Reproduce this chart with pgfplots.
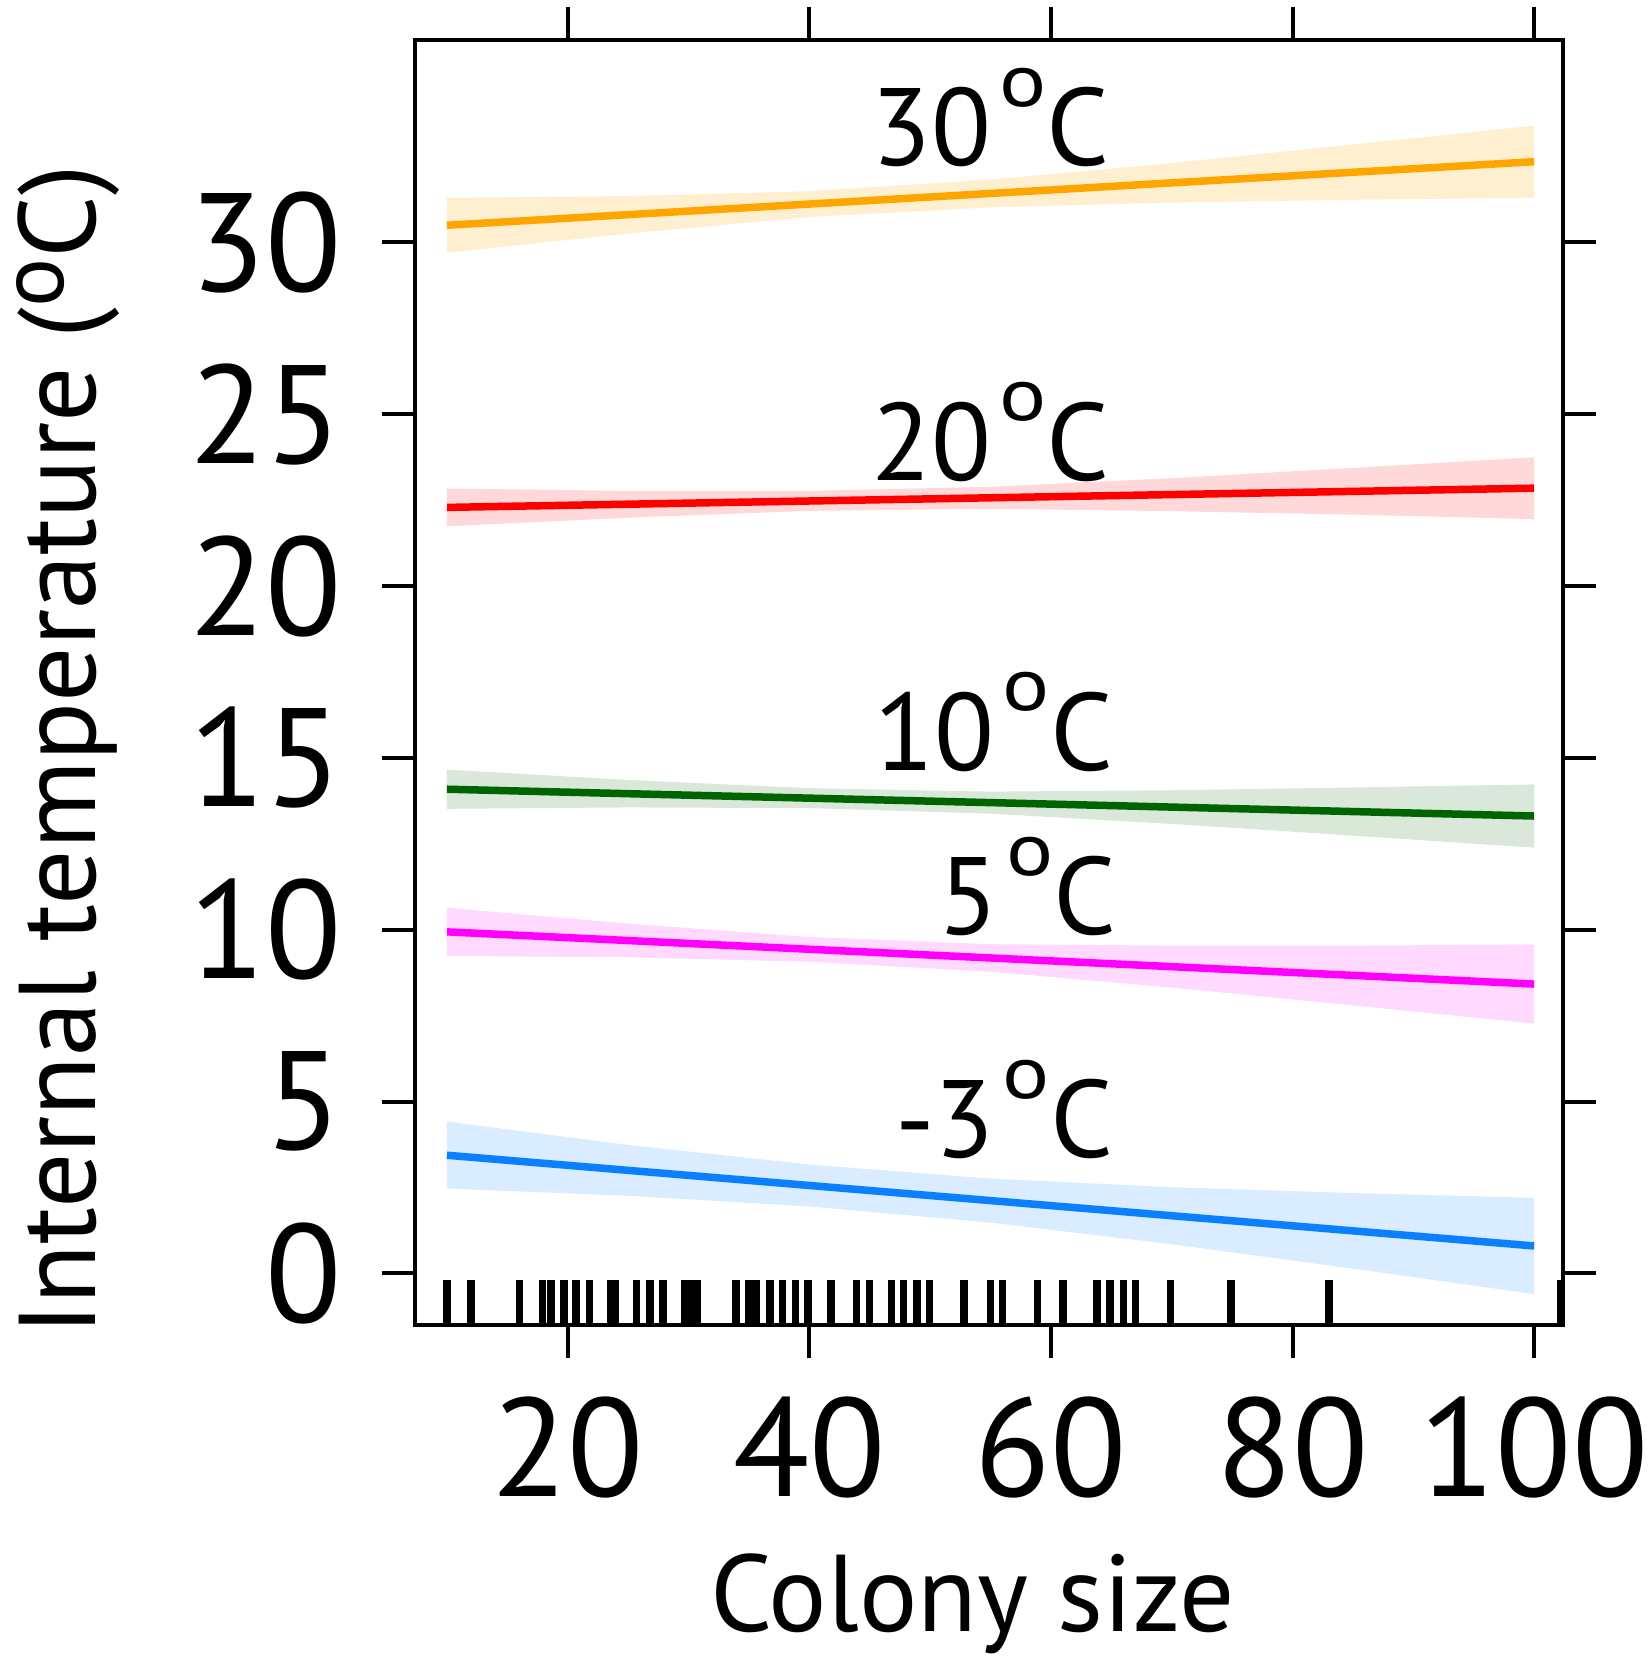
\documentclass[border=0pt]{standalone}
\usepackage{pgfplots}
\pgfplotsset{compat=1.18}
\usepackage{fontspec}
\setmainfont{PT Sans}
\usepackage{graphicx}

\definecolor{cOr}{HTML}{FFA500}
\definecolor{cRd}{HTML}{FF0000}
\definecolor{cGr}{HTML}{006400}
\definecolor{cMg}{HTML}{FF00FF}
\definecolor{cBl}{HTML}{0A80FF}

\newcommand\dg{\kern2pt\raisebox{0.54em}{\scalebox{0.8}[0.68]{o}}}

\begin{document}
\begin{tikzpicture}
\useasboundingbox (-99.6pt,-81.84pt) rectangle (296.4pt,318pt);
\begin{axis}[
  scale only axis, width=275.52pt, height=308.4pt,
  at={(0,0)}, anchor=south west,
  xmin=7.36, xmax=102.39, ymin=-1.50, ymax=35.89,
  axis line style={line width=0.96pt},
  every tick/.style={black, line width=0.96pt},
  tick align=outside, major tick length=8pt,
  xtick={20,40,60,80,100}, ytick={0,5,10,15,20,25,30},
  minor tick num=0,
  /pgf/number format/assume math mode=true,
  tick label style={font=\fontsize{33.6}{36}\selectfont, inner sep=0pt},
  xticklabel style={yshift=-9pt},
  yticklabel style={xshift=-9.3pt},
  xlabel={Colony size},
  ylabel={Internal temperature (\raisebox{0.3em}{\scalebox{0.84}{o}}C)},
  label style={font=\fontsize{26.2}{30}\selectfont, inner sep=0pt},
  xlabel style={at={(axis description cs:0.486,-0.2387)}, anchor=base},
  ylabel style={at={(axis description cs:-0.2780,0.447)}, anchor=base},
]
% confidence bands
\addplot[draw=none, fill=cOr!18] coordinates {(10,31.3)(25,31.35)(40,31.49)(55,31.83)(70,32.31)(85,32.85)(100,33.4)(100,31.3)(85,31.24)(70,31.16)(55,31.02)(40,30.74)(25,30.26)(10,29.7)} -- cycle;
\addplot[draw=none, fill=cRd!15] coordinates {(10,22.84)(25,22.77)(40,22.77)(55,22.89)(70,23.14)(85,23.44)(100,23.75)(100,21.95)(85,22.08)(70,22.18)(55,22.25)(40,22.19)(25,21.99)(10,21.74)} -- cycle;
\addplot[draw=none, fill=cGr!15] coordinates {(10,14.66)(25,14.36)(40,14.12)(55,14.02)(70,14.06)(85,14.14)(100,14.23)(100,12.39)(85,12.74)(70,13.08)(55,13.38)(40,13.54)(25,13.56)(10,13.52)} -- cycle;
\addplot[draw=none, fill=cMg!15] coordinates {(10,10.64)(25,10.18)(40,9.79)(55,9.58)(70,9.54)(85,9.54)(100,9.57)(100,7.27)(85,7.80)(70,8.32)(55,8.78)(40,9.07)(25,9.20)(10,9.24)} -- cycle;
\addplot[draw=none, fill=cBl!15] coordinates {(10,4.42)(25,3.74)(40,3.17)(55,2.76)(70,2.51)(85,2.34)(100,2.2)(100,-0.6)(85,0.14)(70,0.85)(55,1.48)(40,1.95)(25,2.26)(10,2.47)} -- cycle;
% fitted lines
\addplot[cOr, line width=1.8pt] coordinates {(10,30.5)(100,32.35)};
\addplot[cRd, line width=1.8pt] coordinates {(10,22.29)(100,22.85)};
\addplot[cGr, line width=1.8pt] coordinates {(10,14.09)(100,13.31)};
\addplot[cMg, line width=1.8pt] coordinates {(10,9.94)(100,8.42)};
\addplot[cBl, line width=1.8pt] coordinates {(10,3.44)(100,0.80)};
% rug
\addplot[only marks, mark=|, mark size=5.35pt, mark options={black, line width=1.8pt}] coordinates {
(10,-0.851)(12,-0.851)(16,-0.851)(17.9,-0.851)(18.6,-0.851)(19.7,-0.851)(20.7,-0.851)(21.8,-0.851)
(23.6,-0.851)(23.95,-0.851)(25.7,-0.851)(26.8,-0.851)(27.9,-0.851)(29.7,-0.851)(30.2,-0.851)(30.75,-0.851)
(33.95,-0.851)(34.95,-0.851)(35.6,-0.851)(36.75,-0.851)(37.8,-0.851)(38.85,-0.851)(39.9,-0.851)(41.8,-0.851)
(43.9,-0.851)(45,-0.851)(46.8,-0.851)(47.8,-0.851)(48.9,-0.851)(49.95,-0.851)(52.8,-0.851)(55,-0.851)
(56,-0.851)(58.9,-0.851)(61,-0.851)(63.8,-0.851)(64.9,-0.851)(66,-0.851)(67,-0.851)(69.9,-0.851)
(74.9,-0.851)(83,-0.851)(102.2,-0.851)};
% labels
\begin{scope}[every node/.style={anchor=base east, inner sep=0pt, font=\fontsize{26.4}{30}\selectfont}]
\node at (axis cs:64.9,32.23) {30\dg C};
\node at (axis cs:64.9,23.08) {20\dg C};
\node at (axis cs:65.2,14.64) {10\dg C};
\node at (axis cs:65.5,9.85) {5\dg C};
\node at (axis cs:65.2,3.36) {-3\dg C};
\end{scope}
\end{axis}
\end{tikzpicture}
\end{document}
